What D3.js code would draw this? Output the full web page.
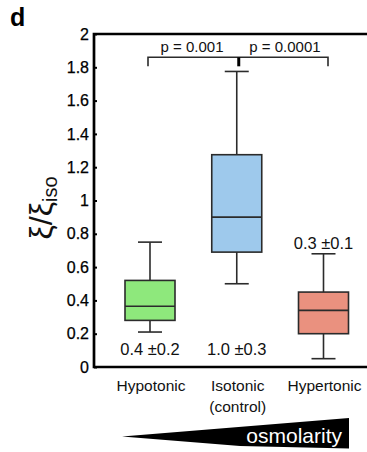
<!DOCTYPE html>
<html>
<head>
<meta charset="utf-8">
<script src="https://cdn.jsdelivr.net/npm/d3@7"></script>
<style>
  body { margin: 0; background: #fff; }
  svg { display: block; font-family: "Liberation Sans", Arial, sans-serif; }
</style>
</head>
<body>
<div id="chart"></div>
<script>
// box plot data
const categories = ["Hypotonic", "Isotonic", "Hypertonic"];
const catLines = [["Hypotonic"], ["Isotonic", "(control)"], ["Hypertonic"]];
const whiskerLow = [0.21, 0.50, 0.05];
const q1 = [0.28, 0.69, 0.20];
const median = [0.365, 0.90, 0.34];
const q3 = [0.52, 1.275, 0.45];
const whiskerHigh = [0.75, 1.775, 0.68];
const meanLabels = ["0.4 ±0.2", "1.0 ±0.3", "0.3 ±0.1"];
const labelAt = [0.07, 0.07, 0.71]; // value where the mean ± sd text sits
const yTicks = [0, 0.2, 0.4, 0.6, 0.8, 1, 1.2, 1.4, 1.6, 1.8, 2];
const pLabels = ["p = 0.001", "p = 0.0001"];
const bracketAt = 1.86;

const W = 367, H = 452;
const plotL = 94, plotR = 367, plotT = 34, plotB = 367;

const svg = d3.select("#chart").append("svg")
  .attr("width", W).attr("height", H);

const y = d3.scaleLinear().domain([0, 2]).range([plotB, plotT]);
const x = d3.scalePoint().domain(categories).range([150, 323.5]);
const color = d3.scaleOrdinal().domain(categories)
  .range(["#8ee87c", "#9ec9ec", "#ea917f"]);

const boxW = 50, capW = 24;
const ink = "#2b2b2b";

// panel letter
svg.append("text").attr("x", 10).attr("y", 26)
  .attr("font-size", 25).attr("font-weight", "bold").text("d");

// y axis (ticks point inward)
const yAxis = svg.append("g").attr("transform", `translate(${plotL},0)`)
  .call(d3.axisRight(y).tickValues(yTicks).tickSize(3)
    .tickFormat(d => d3.format("~g")(d)));
yAxis.select(".domain").remove();
yAxis.selectAll(".tick line").attr("stroke", "#000").attr("stroke-width", 2);
yAxis.selectAll(".tick text").attr("x", -5).attr("text-anchor", "end")
  .attr("font-size", 16).attr("fill", "#000").attr("stroke", "#000").attr("stroke-width", 0.25)
  .attr("font-family", "Liberation Sans, Arial, sans-serif");

// frame lines: left, bottom, top
svg.append("path")
  .attr("d", `M${plotR},${plotT}H${plotL}V${plotB}H${plotR}`)
  .attr("fill", "none").attr("stroke", "#000").attr("stroke-width", 2.7);

// boxes
const g = svg.append("g").selectAll("g").data(categories).join("g");
g.append("line")
  .attr("x1", d => x(d)).attr("x2", d => x(d))
  .attr("y1", (d, i) => y(whiskerLow[i])).attr("y2", (d, i) => y(whiskerHigh[i]))
  .attr("stroke", ink).attr("stroke-width", 1.6);
[whiskerLow, whiskerHigh].forEach(arr => {
  g.append("line")
    .attr("x1", d => x(d) - capW / 2).attr("x2", d => x(d) + capW / 2)
    .attr("y1", (d, i) => y(arr[i])).attr("y2", (d, i) => y(arr[i]))
    .attr("stroke", ink).attr("stroke-width", 1.6);
});
g.append("rect")
  .attr("x", d => x(d) - boxW / 2).attr("width", boxW)
  .attr("y", (d, i) => y(q3[i])).attr("height", (d, i) => y(q1[i]) - y(q3[i]))
  .attr("fill", d => color(d)).attr("stroke", ink).attr("stroke-width", 1.6);
g.append("line")
  .attr("x1", d => x(d) - boxW / 2).attr("x2", d => x(d) + boxW / 2)
  .attr("y1", (d, i) => y(median[i])).attr("y2", (d, i) => y(median[i]))
  .attr("stroke", ink).attr("stroke-width", 1.6);

// mean ± sd labels
g.append("text")
  .attr("x", d => x(d)).attr("y", (d, i) => y(labelAt[i]))
  .attr("text-anchor", "middle").attr("font-size", 16.5).attr("fill", "#111")
  .text((d, i) => meanLabels[i]);

// category labels
g.append("text")
  .attr("x", d => x(d) + 1).attr("y", 391)
  .attr("text-anchor", "middle").attr("font-size", 15.5).attr("fill", "#111")
  .selectAll("tspan").data((d, i) => catLines[i]).join("tspan")
  .attr("x", function () { return this.parentNode.getAttribute("x"); })
  .attr("dy", (d, j) => j ? 21 : 0)
  .text(d => d);

// significance bracket
const by = y(bracketAt);
const bx0 = x(categories[0]) - 2, bx1 = x(categories[2]) + 4.5;
const bxm = x(categories[1]) + 2;
svg.append("path")
  .attr("d", `M${bx0},${by + 9}V${by}H${bx1}V${by + 9}`)
  .attr("fill", "none").attr("stroke", ink).attr("stroke-width", 1.6);
svg.append("line")
  .attr("x1", bxm).attr("x2", bxm).attr("y1", by).attr("y2", by + 9)
  .attr("stroke", "#000").attr("stroke-width", 3);
svg.append("text").attr("x", 192).attr("y", by - 5)
  .attr("text-anchor", "middle").attr("font-size", 15).attr("fill", "#111")
  .text(pLabels[0]);
svg.append("text").attr("x", 285).attr("y", by - 5)
  .attr("text-anchor", "middle").attr("font-size", 15).attr("fill", "#111")
  .text(pLabels[1]);

// y label
const yl = svg.append("text")
  .attr("transform", "translate(52,208) rotate(-90)")
  .attr("text-anchor", "middle").attr("font-size", 32).attr("fill", "#111")
  .attr("font-family", "Liberation Sans, Arial, sans-serif");
yl.append("tspan").text("ξ/ξ");
yl.append("tspan").attr("font-size", 20).attr("dy", 5).text("iso");

// osmolarity wedge
svg.append("path")
  .attr("d", "M122,436.5L349,418L349,448.5L240,446Z")
  .attr("fill", "#000");
svg.append("text").attr("x", 342).attr("y", 443)
  .attr("text-anchor", "end").attr("font-size", 21).attr("fill", "#fff")
  .text("osmolarity");
</script>
</body>
</html>
